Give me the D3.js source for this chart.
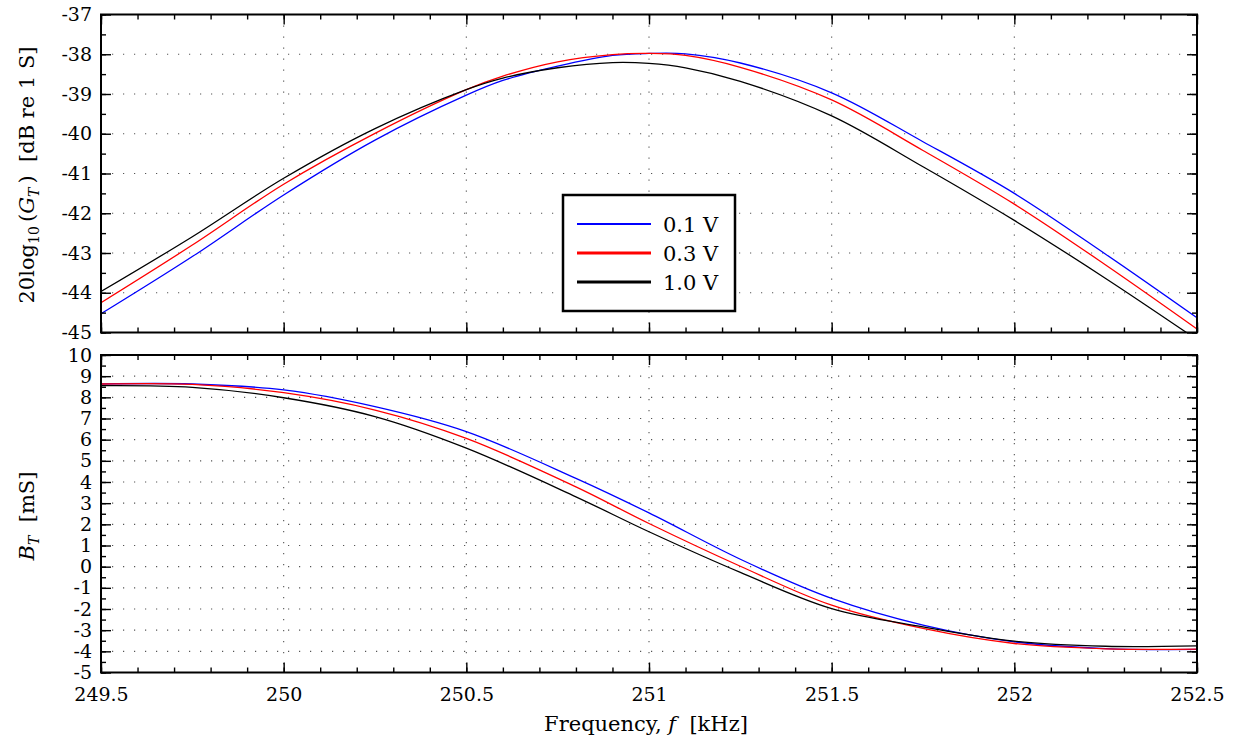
<!DOCTYPE html>
<html>
<head>
<meta charset="utf-8">
<script src="https://cdn.jsdelivr.net/npm/d3@7"></script>
<style>
  body { margin: 0; background: #fff; }
  svg { display: block; }
</style>
</head>
<body>
<svg id="chart" width="1233" height="742"></svg>
<script>
// values
var freqG = [249.5, 249.75, 250, 250.25, 250.5, 250.6, 250.75, 250.9, 251, 251.1, 251.25, 251.5, 251.75, 252, 252.25, 252.5];
var gBlue  = [-44.53, -43.09, -41.54, -40.16, -39.03, -38.66, -38.30, -38.03, -37.98, -37.99, -38.22, -38.97, -40.20, -41.50, -43.03, -44.63];
var gRed   = [-44.25, -42.80, -41.27, -39.99, -38.89, -38.55, -38.19, -38.01, -37.98, -38.03, -38.33, -39.15, -40.42, -41.77, -43.30, -44.91];
var gBlack = [-43.97, -42.59, -41.12, -39.87, -38.89, -38.60, -38.34, -38.21, -38.23, -38.34, -38.68, -39.55, -40.83, -42.18, -43.64, -45.18];

var freqB = [249.5, 249.75, 250, 250.25, 250.5, 250.8, 251, 251.25, 251.5, 251.75, 252, 252.25, 252.5];
var bBlue  = [8.63, 8.63, 8.35, 7.56, 6.38, 4.17, 2.54, 0.35, -1.50, -2.76, -3.55, -3.87, -3.91];
var bRed   = [8.63, 8.61, 8.22, 7.40, 6.06, 3.77, 2.04, 0.02, -1.82, -2.92, -3.63, -3.88, -3.90];
var bBlack = [8.55, 8.47, 7.98, 7.09, 5.60, 3.30, 1.65, -0.27, -1.98, -2.84, -3.52, -3.76, -3.74];

var seriesNames = ["0.1 V", "0.3 V", "1.0 V"];
var seriesColors = ["#0000ff", "#ff0000", "#000000"];

var xMajor = [249.5, 250, 250.5, 251, 251.5, 252, 252.5];
var xMinor = d3.range(0, 31).map(function(i){ return 249.5 + i * 0.1; });
var gMajor = d3.range(-45, -36);
var gMinor = d3.range(0, 17).map(function(i){ return -45 + i * 0.5; });
var bMajor = d3.range(-5, 11);
var bMinor = d3.range(0, 31).map(function(i){ return -5 + i * 0.5; });

var serif = "DejaVu Serif, serif";
var svg = d3.select("#chart");

var x = d3.scaleLinear().domain([249.5, 252.5]).range([101, 1197]);
var yG = d3.scaleLinear().domain([-45, -37]).range([332.5, 14.5]);
var yB = d3.scaleLinear().domain([-5, 10]).range([672.5, 355]);

function drawPanel(id, y, yMaj, yMin, xs, ys, showX) {
    var x0 = x.range()[0], x1 = x.range()[1];
    var yb = y.range()[0], yt = y.range()[1];
    var g = svg.append("g");

    g.append("clipPath").attr("id", id).append("rect")
        .attr("x", x0).attr("y", yt).attr("width", x1 - x0).attr("height", yb - yt);

    // dotted grid at the major ticks
    g.selectAll(".vg").data(xMajor.slice(1, -1)).join("line")
        .attr("x1", function(d){ return x(d); }).attr("x2", function(d){ return x(d); })
        .attr("y1", yt).attr("y2", yb)
        .attr("stroke", "#555").attr("stroke-width", 1.1).attr("stroke-dasharray", "1.2,9.8");
    g.selectAll(".hg").data(yMaj.slice(1, -1)).join("line")
        .attr("y1", function(d){ return y(d); }).attr("y2", function(d){ return y(d); })
        .attr("x1", x0).attr("x2", x1)
        .attr("stroke", "#555").attr("stroke-width", 1.1).attr("stroke-dasharray", "1.2,9.8");

    var line = d3.line().curve(d3.curveCatmullRom.alpha(0.5));
    g.append("g").attr("clip-path", "url(#" + id + ")")
        .selectAll("path").data(ys).join("path")
        .attr("d", function(vals){ return line(vals.map(function(v, i){ return [x(xs[i]), y(v)]; })); })
        .attr("fill", "none")
        .attr("stroke", function(d, i){ return seriesColors[i]; })
        .attr("stroke-width", 1.3);

    function ax(a, pos) {
        var s = g.append("g").attr("transform", pos).call(a);
        s.select(".domain").remove();
        s.attr("font-family", serif).attr("font-size", 19);
        s.selectAll(".tick line").attr("stroke", "#000").attr("stroke-width", 1.4);
        s.selectAll("text").attr("fill", "#000");
        return s;
    }
    var noLab = function(){ return ""; };
    var lab = function(d){ return String(d); };
    ax(d3.axisBottom(x).tickValues(xMinor).tickSize(-5).tickFormat(noLab), "translate(0," + yb + ")");
    ax(d3.axisBottom(x).tickValues(xMajor).tickSize(-10).tickPadding(15)
        .tickFormat(showX ? lab : noLab), "translate(0," + yb + ")");
    ax(d3.axisTop(x).tickValues(xMinor).tickSize(-5).tickFormat(noLab), "translate(0," + yt + ")");
    ax(d3.axisTop(x).tickValues(xMajor).tickSize(-10).tickFormat(noLab), "translate(0," + yt + ")");
    ax(d3.axisLeft(y).tickValues(yMin).tickSize(-5).tickFormat(noLab), "translate(" + x0 + ",0)");
    ax(d3.axisLeft(y).tickValues(yMaj).tickSize(-10).tickPadding(9).tickFormat(lab), "translate(" + x0 + ",0)");
    ax(d3.axisRight(y).tickValues(yMin).tickSize(-5).tickFormat(noLab), "translate(" + x1 + ",0)");
    ax(d3.axisRight(y).tickValues(yMaj).tickSize(-10).tickFormat(noLab), "translate(" + x1 + ",0)");

    g.append("rect").attr("x", x0).attr("y", yt).attr("width", x1 - x0).attr("height", yb - yt)
        .attr("fill", "none").attr("stroke", "#000").attr("stroke-width", 2);
}

drawPanel("clipG", yG, gMajor, gMinor, freqG, [gBlue, gRed, gBlack], false);
drawPanel("clipB", yB, bMajor, bMinor, freqB, [bBlue, bRed, bBlack], true);

// axis titles
var t1 = svg.append("text").attr("transform", "translate(34,175) rotate(-90)")
    .attr("text-anchor", "middle").attr("font-family", serif).attr("font-size", 21).attr("fill", "#000");
t1.append("tspan").text("20log");
t1.append("tspan").attr("font-size", 14).attr("dy", 5).text("10");
t1.append("tspan").attr("dy", -5).text("\u2009(");
t1.append("tspan").attr("font-style", "italic").text("G");
t1.append("tspan").attr("font-style", "italic").attr("font-size", 14).attr("dy", 5).text("T");
t1.append("tspan").attr("dy", -5).text("\u2009)\u00a0\u00a0[dB re 1 S]");

var t2 = svg.append("text").attr("transform", "translate(34,516) rotate(-90)")
    .attr("text-anchor", "middle").attr("font-family", serif).attr("font-size", 21).attr("fill", "#000");
t2.append("tspan").attr("font-style", "italic").text("B");
t2.append("tspan").attr("font-style", "italic").attr("font-size", 14).attr("dy", 5).text("T");
t2.append("tspan").attr("dy", -5).text("\u00a0\u00a0[mS]");

var t3 = svg.append("text").attr("x", 646).attr("y", 731)
    .attr("text-anchor", "middle").attr("font-family", serif).attr("font-size", 21).attr("fill", "#000");
t3.append("tspan").text("Frequency,\u00a0");
t3.append("tspan").attr("font-style", "italic").text("f");
t3.append("tspan").text("\u00a0\u00a0[kHz]");

// legend
var leg = svg.append("g");
leg.append("rect").attr("x", 563).attr("y", 195).attr("width", 172).attr("height", 116)
    .attr("fill", "#fff").attr("stroke", "#000").attr("stroke-width", 2.5);
var legW = [2, 3, 3];
seriesNames.forEach(function(name, i){
    var yy = 224 + i * 29;
    leg.append("line").attr("x1", 577).attr("x2", 651).attr("y1", yy).attr("y2", yy)
        .attr("stroke", seriesColors[i]).attr("stroke-width", legW[i]);
    leg.append("text").attr("x", 663).attr("y", yy + 8).attr("font-family", serif)
        .attr("font-size", 21).attr("fill", "#000").text(name);
});
</script>
</body>
</html>
